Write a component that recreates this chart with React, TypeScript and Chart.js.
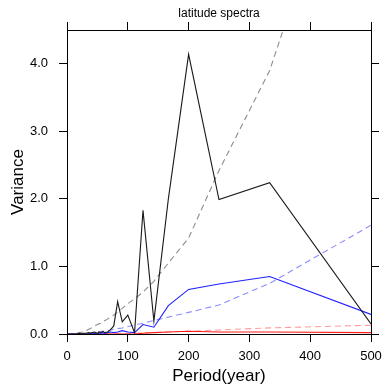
import React, { useEffect, useRef } from "react";
import { Chart, registerables } from "chart.js";
Chart.register(...registerables);

const periods = [500, 333.3, 250, 200, 166.7, 142.9, 125, 111.1, 100, 90.9, 83.3, 76.9, 71.4, 66.7, 62.5, 58.8, 55.6, 52.6, 50, 45.5, 41.7, 38.5, 35.7, 31.3, 27.8, 25, 20, 15.4, 10, 5, 2];

const blackValues = [0.15, 2.24, 1.99, 4.14, 2.0, 0.19, 1.83, 0.02, 0.28, 0.18, 0.48, 0.12, 0.06, 0.03, 0.02, 0.04, 0.02, 0.03, 0.01, 0.03, 0.02, 0.01, 0.02, 0.01, 0.01, 0.0, 0.01, 0.0, 0.0, 0.0, 0.0];
const blueValues = [0.29, 0.85, 0.74, 0.66, 0.42, 0.10, 0.14, 0.02, 0.03, 0.05, 0.03, 0.02, 0.03, 0.02, 0.01, 0.02, 0.01, 0.01, 0.0, 0.01, 0.0, 0.0, 0.0, 0.0, 0.0, 0.0, 0.0, 0.0, 0.0, 0.0, 0.0];
const redValues = [0.02, 0.03, 0.03, 0.04, 0.03, 0.02, 0.01, 0.0, 0.0, 0.0, 0.0, 0.0, 0.0, 0.0, 0.0, 0.0, 0.0, 0.0, 0.0, 0.0, 0.0, 0.0, 0.0, 0.0, 0.0, 0.0, 0.0, 0.0, 0.0, 0.0, 0.0];
const blackRedNoise = [8.4, 3.9, 2.42, 1.42, 1.05, 0.78, 0.62, 0.52, 0.45, 0.38, 0.33, 0.28, 0.25, 0.22, 0.2, 0.18, 0.16, 0.15, 0.14, 0.12, 0.1, 0.08, 0.07, 0.05, 0.04, 0.03, 0.02, 0.01, 0.0, 0.0, 0.0];
const blueRedNoise = [1.61, 0.75, 0.43, 0.32, 0.25, 0.2, 0.16, 0.13, 0.11, 0.09, 0.08, 0.07, 0.06, 0.05, 0.045, 0.04, 0.035, 0.03, 0.03, 0.025, 0.02, 0.02, 0.015, 0.01, 0.01, 0.01, 0.005, 0.0, 0.0, 0.0, 0.0];
const redRedNoise = [0.13, 0.09, 0.06, 0.04, 0.03, 0.02, 0.02, 0.01, 0.01, 0.01, 0.01, 0.0, 0.0, 0.0, 0.0, 0.0, 0.0, 0.0, 0.0, 0.0, 0.0, 0.0, 0.0, 0.0, 0.0, 0.0, 0.0, 0.0, 0.0, 0.0, 0.0];

const xTicks = [0, 100, 200, 300, 400, 500];
const yTicks = [0, 1, 2, 3, 4];

const FONT = "'Liberation Sans', Arial, Helvetica, sans-serif";

export default function App() {
  const ref = useRef<HTMLCanvasElement>(null);
  useEffect(() => {
    const canvas = ref.current!;
    Chart.defaults.color = "#000";
    Chart.defaults.font.family = FONT;
    const mk = (vals: number[]) => periods.map((p, i) => ({ x: p, y: vals[i] }));
    const line = (vals: number[], color: string, dash: number[] = [], width = 1.1) => ({
      data: mk(vals),
      borderColor: color,
      borderWidth: width,
      borderDash: dash,
      pointRadius: 0,
      tension: 0,
      fill: false,
    });
    const setX = (s: any) => { s.ticks = xTicks.map((v) => ({ value: v })); };
    const setY = (s: any) => { s.ticks = yTicks.map((v) => ({ value: v })); };
    const grid = { drawOnChartArea: false, tickLength: 8, color: "#000", lineWidth: 1 };
    const border = { color: "#000", width: 1 };
    const chart = new Chart(canvas, {
      type: "line",
      data: {
        datasets: [
          line(blackValues, "#1a1a1a"),
          line(blueValues, "#1f1fff"),
          line(redValues, "#ff1a1a"),
          line(blackRedNoise, "#8c8c8c", [6, 4]),
          line(blueRedNoise, "#8c8cff", [6, 4]),
          line(redRedNoise, "#ff9c9c", [6, 4]),
        ] as any,
      },
      options: {
        animation: false,
        responsive: false,
        maintainAspectRatio: false,
        layout: { padding: 0 },
        plugins: { legend: { display: false }, tooltip: { enabled: false }, title: { display: false } },
        scales: {
          x: {
            type: "linear", position: "bottom", min: 0, max: 500,
            afterBuildTicks: setX,
            afterFit: (s: any) => { s.height = 54; },
            grid, border,
            ticks: { padding: 7, maxRotation: 0, font: { size: 13, family: FONT }, color: "#000", callback: (v: any) => String(v) },
            title: { display: true, text: "Period(year)", color: "#000", font: { size: 17, family: FONT }, padding: { top: 0, bottom: 1 } },
          },
          x2: {
            type: "linear", position: "top", min: 0, max: 500,
            afterBuildTicks: setX,
            afterFit: (s: any) => { s.height = 30; },
            grid, border,
            ticks: { display: false },
            title: { display: true, text: "latitude spectra", color: "#000", font: { size: 12, family: FONT }, padding: { top: 6, bottom: 0 } },
          },
          y: {
            type: "linear", position: "left", min: 0, max: 4.5,
            afterBuildTicks: setY,
            afterFit: (s: any) => { s.width = 67; },
            grid, border,
            ticks: { padding: 11, font: { size: 13, family: FONT }, color: "#000", callback: (v: any) => Number(v).toFixed(1) },
            title: { display: true, text: "Variance", color: "#000", font: { size: 17, family: FONT }, padding: { top: 8, bottom: 0 } },
          },
          y2: {
            type: "linear", position: "right", min: 0, max: 4.5,
            afterBuildTicks: setY,
            afterFit: (s: any) => { s.width = 21; },
            grid, border,
            ticks: { display: false },
          },
        } as any,
      },
    });
    return () => chart.destroy();
  }, []);
  return (
    <div style={{ position: "fixed", left: 0, top: 0, width: 392, height: 388, background: "#fff" }}>
      <canvas ref={ref} width={392} height={388} style={{ width: 392, height: 388, display: "block" }} />
    </div>
  );
}
